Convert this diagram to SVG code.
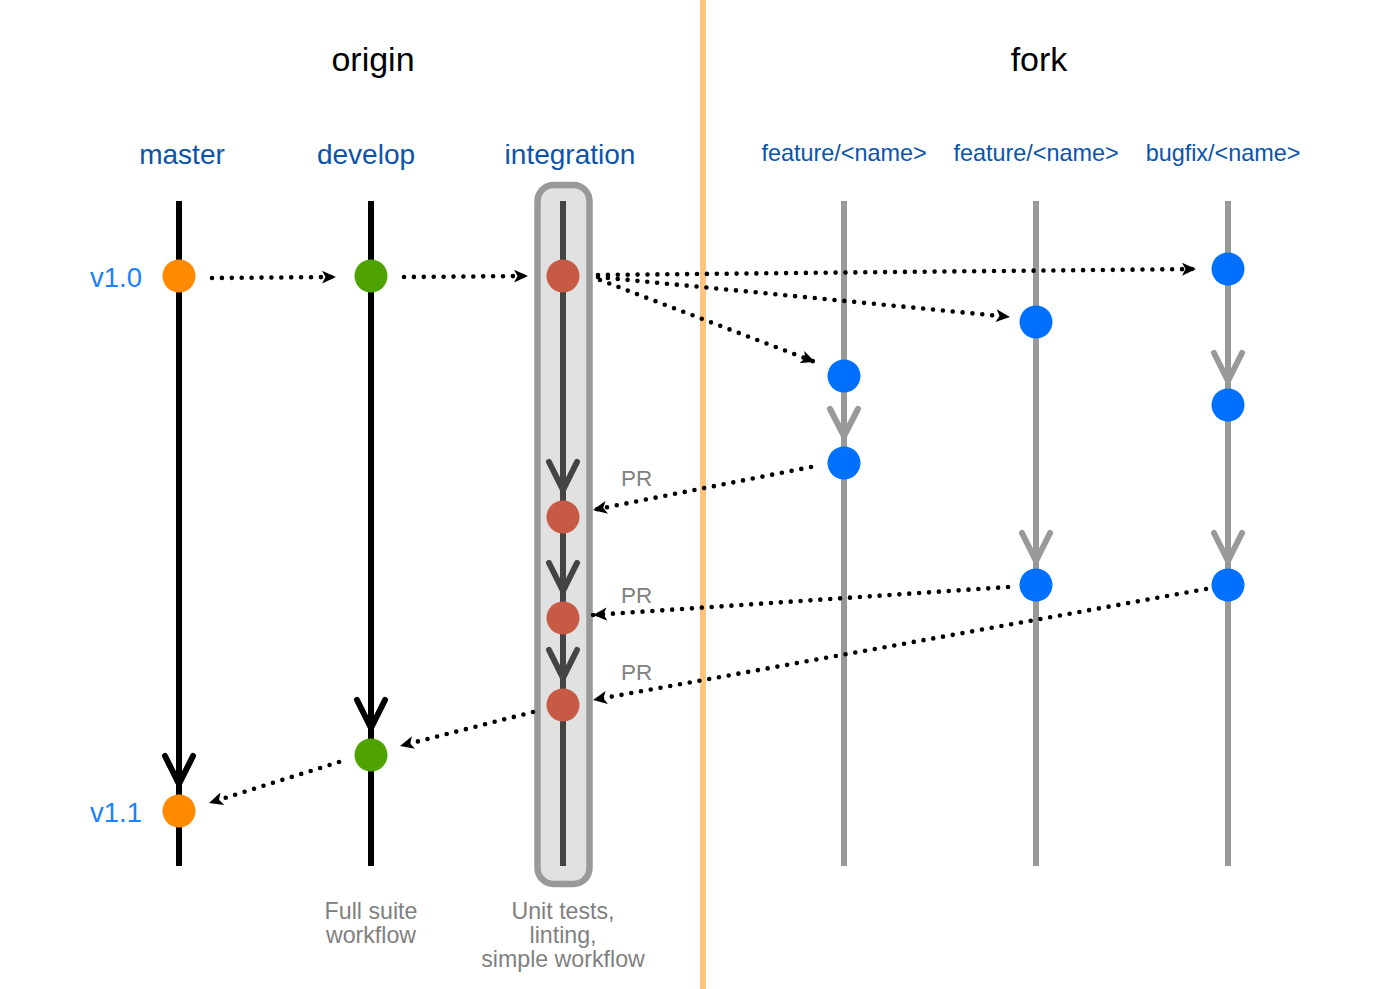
<svg xmlns="http://www.w3.org/2000/svg" width="1400" height="989" viewBox="0 0 1400 989">
<style>
.title{font-family:"Liberation Sans",Arial,sans-serif;font-size:34px;fill:#000;text-anchor:middle}
.branch{font-family:"Liberation Sans",Arial,sans-serif;font-size:28px;fill:#0B54AA;text-anchor:middle}
.fbranch{font-family:"Liberation Sans",Arial,sans-serif;font-size:23.4px;fill:#0B54AA;text-anchor:middle}
.ver{font-family:"Liberation Sans",Arial,sans-serif;font-size:27.5px;fill:#1A82FF;text-anchor:end}
.note{font-family:"Liberation Sans",Arial,sans-serif;font-size:23.2px;fill:#808080;text-anchor:middle}
.pr{font-family:"Liberation Sans",Arial,sans-serif;font-size:22.5px;fill:#808080}
.line-o{stroke:#000;stroke-width:6;fill:none}
.line-i{stroke:#444;stroke-width:6;fill:none}
.line-f{stroke:#999;stroke-width:6;fill:none}
.chev{fill:none;stroke-width:6;stroke-linecap:round;stroke-linejoin:round}
.dot{fill:none;stroke:#000;stroke-width:4.6;stroke-linecap:round;stroke-dasharray:0 9.9;marker-end:url(#arr)}
.n-master{fill:#FF8A00}
.n-dev{fill:#4FA300}
.n-int{fill:#C75A45}
.n-fork{fill:#0070FF}
</style>
<defs>
<marker id="arr" markerUnits="userSpaceOnUse" markerWidth="15" markerHeight="14" refX="14" refY="6.5" orient="auto" viewBox="0 0 15 13">
<path d="M0,0 L14,6.5 L0,13 L3.5,6.5 Z" fill="#000"/>
</marker>
</defs>
<rect width="1400" height="989" fill="#fff"/>

<g id="separator">
<line x1="703" y1="0" x2="703" y2="989" stroke="#FFC47F" stroke-width="6"/>
</g>

<g id="titles">
<text class="title" x="373" y="71">origin</text>
<text class="title" x="1039" y="71">fork</text>
</g>

<g id="branch-labels">
<text class="branch" x="182" y="163.5">master</text>
<text class="branch" x="366" y="163.5">develop</text>
<text class="branch" x="570" y="163.5">integration</text>
<text class="fbranch" x="844" y="161">feature/&lt;name&gt;</text>
<text class="fbranch" x="1036" y="161">feature/&lt;name&gt;</text>
<text class="fbranch" x="1223" y="161">bugfix/&lt;name&gt;</text>
</g>

<g id="integration-box">
<rect x="537.5" y="185" width="52" height="699" rx="16" ry="16" fill="#E1E1E1" stroke="#999" stroke-width="6.5"/>
</g>

<g id="branch-master">
<line class="line-o" x1="179" y1="201" x2="179" y2="866"/>
<path class="chev" stroke="#000" d="M165,756 L179,784 L193,756"/>
</g>
<g id="branch-develop">
<line class="line-o" x1="371" y1="201" x2="371" y2="866"/>
<path class="chev" stroke="#000" d="M357,700 L371,728 L385,700"/>
</g>
<g id="branch-integration">
<line class="line-i" x1="563" y1="201" x2="563" y2="866"/>
<path class="chev" stroke="#444" d="M549,462 L563,490 L577,462"/>
<path class="chev" stroke="#444" d="M549,563 L563,591 L577,563"/>
<path class="chev" stroke="#444" d="M549,650 L563,678 L577,650"/>
</g>
<g id="branch-feature1">
<line class="line-f" x1="844" y1="201" x2="844" y2="866"/>
<path class="chev" stroke="#999" d="M830,409 L844,436 L858,409"/>
</g>
<g id="branch-feature2">
<line class="line-f" x1="1036" y1="201" x2="1036" y2="866"/>
<path class="chev" stroke="#999" d="M1022,533 L1036,561 L1050,533"/>
</g>
<g id="branch-bugfix">
<line class="line-f" x1="1228" y1="201" x2="1228" y2="866"/>
<path class="chev" stroke="#999" d="M1214,353 L1228,381 L1242,353"/>
<path class="chev" stroke="#999" d="M1214,533 L1228,561 L1242,533"/>
</g>

<g id="connectors">
<path class="dot" d="M212,278 L336,277"/>
<path class="dot" d="M404,277 L528,276"/>
<path class="dot" d="M598,275 L1196,269"/>
<path class="dot" d="M598,277 L1010,317"/>
<path class="dot" d="M600,280 L815,362"/>
<path class="dot" d="M811,467 L593,510"/>
<path class="dot" d="M1008,587 L593,615"/>
<path class="dot" d="M1206,589 L593,700"/>
<path class="dot" d="M533,712 L400,746"/>
<path class="dot" d="M339,762 L209,803"/>
</g>

<g id="pr-labels">
<text class="pr" x="621" y="486">PR</text>
<text class="pr" x="621" y="603">PR</text>
<text class="pr" x="621" y="680">PR</text>
</g>

<g id="node-master-v10"><circle class="n-master" cx="179" cy="276" r="16.5"/></g>
<g id="node-master-v11"><circle class="n-master" cx="179" cy="811" r="16.5"/></g>
<g id="node-develop-1"><circle class="n-dev" cx="371" cy="276" r="16.5"/></g>
<g id="node-develop-2"><circle class="n-dev" cx="371" cy="755" r="16.5"/></g>
<g id="node-int-1"><circle class="n-int" cx="563" cy="276" r="16.5"/></g>
<g id="node-int-2"><circle class="n-int" cx="563" cy="517" r="16.5"/></g>
<g id="node-int-3"><circle class="n-int" cx="563" cy="618" r="16.5"/></g>
<g id="node-int-4"><circle class="n-int" cx="563" cy="705" r="16.5"/></g>
<g id="node-feat1-1"><circle class="n-fork" cx="844" cy="376" r="16.5"/></g>
<g id="node-feat1-2"><circle class="n-fork" cx="844" cy="463" r="16.5"/></g>
<g id="node-feat2-1"><circle class="n-fork" cx="1036" cy="322" r="16.5"/></g>
<g id="node-feat2-2"><circle class="n-fork" cx="1036" cy="585" r="16.5"/></g>
<g id="node-bugfix-1"><circle class="n-fork" cx="1228" cy="269" r="16.5"/></g>
<g id="node-bugfix-2"><circle class="n-fork" cx="1228" cy="405" r="16.5"/></g>
<g id="node-bugfix-3"><circle class="n-fork" cx="1228" cy="585" r="16.5"/></g>

<g id="version-labels">
<text class="ver" x="142" y="287">v1.0</text>
<text class="ver" x="142" y="822">v1.1</text>
</g>

<g id="notes">
<text class="note" x="371" y="919">Full suite</text>
<text class="note" x="371" y="943">workflow</text>
<text class="note" x="563" y="919">Unit tests,</text>
<text class="note" x="563" y="943">linting,</text>
<text class="note" x="563" y="967">simple workflow</text>
</g>
</svg>
